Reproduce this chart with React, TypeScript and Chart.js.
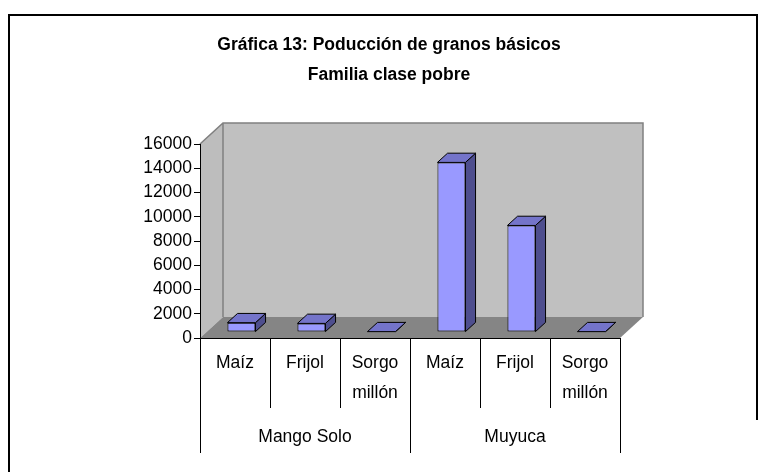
import React, { useEffect, useRef } from 'react';
import { Chart, registerables } from 'chart.js';

Chart.register(...registerables);

const categories: (string | string[])[] = ['Maíz', 'Frijol', ['Sorgo', 'millón'], 'Maíz', 'Frijol', ['Sorgo', 'millón']];
const groups = ['Mango Solo', 'Muyuca'];
const values = [780, 720, 40, 14000, 8800, 40];
const yMin = 0;
const yMax = 16000;
const yStep = 2000;
const titleLines = ['Gráfica 13: Poducción de granos básicos', 'Familia clase pobre'];

const FONT = "'Liberation Sans', Arial, sans-serif";
const W = 766;
const H = 472;
const DX = 23;
const DY = 21;
const F0 = 0.28;
const FD = 0.44;

const FRONT = '#9999FF';
const TOP = '#7474CA';
const SIDE = '#4E4E8E';

function poly(ctx: CanvasRenderingContext2D, pts: number[][]) {
  ctx.beginPath();
  ctx.moveTo(pts[0][0], pts[0][1]);
  for (let i = 1; i < pts.length; i++) ctx.lineTo(pts[i][0], pts[i][1]);
  ctx.closePath();
}

const excel3d = {
  id: 'excel3d',
  beforeDraw(chart: any) {
    const ctx: CanvasRenderingContext2D = chart.ctx;
    const a = chart.chartArea;
    ctx.save();
    ctx.fillStyle = '#ffffff';
    ctx.fillRect(0, 0, W, H);
    // outer frame
    ctx.strokeStyle = '#000';
    ctx.lineWidth = 2;
    ctx.beginPath();
    ctx.moveTo(9, H);
    ctx.lineTo(9, 15);
    ctx.lineTo(757, 15);
    ctx.lineTo(757, 420);
    ctx.stroke();
    // left wall
    ctx.fillStyle = '#BDBDBD';
    poly(ctx, [[a.left, a.top], [a.left + DX, a.top - DY], [a.left + DX, a.bottom - DY], [a.left, a.bottom]]);
    ctx.fill();
    // back wall
    ctx.fillStyle = '#C0C0C0';
    ctx.fillRect(a.left + DX, a.top - DY, a.right - a.left, a.bottom - a.top);
    // floor
    ctx.fillStyle = '#858585';
    poly(ctx, [[a.left, a.bottom], [a.left + DX, a.bottom - DY], [a.right + DX, a.bottom - DY], [a.right, a.bottom]]);
    ctx.fill();
    // wall edges
    ctx.strokeStyle = '#808080';
    ctx.lineWidth = 1.5;
    ctx.beginPath();
    ctx.moveTo(a.left, a.top);
    ctx.lineTo(a.left + DX, a.top - DY);
    ctx.lineTo(a.right + DX, a.top - DY);
    ctx.lineTo(a.right + DX, a.bottom - DY);
    ctx.moveTo(a.left + DX, a.top - DY);
    ctx.lineTo(a.left + DX, a.bottom - DY);
    ctx.stroke();
    ctx.restore();
  },
  beforeDatasetsDraw(chart: any) {
    chart.ctx.save();
    chart.ctx.translate(F0 * DX, -F0 * DY);
  },
  afterDatasetsDraw(chart: any) {
    const ctx: CanvasRenderingContext2D = chart.ctx;
    const meta = chart.getDatasetMeta(0);
    const bx = FD * DX;
    const by = FD * DY;
    ctx.strokeStyle = '#000';
    ctx.lineWidth = 1;
    ctx.lineJoin = 'round';
    meta.data.forEach((el: any) => {
      const { x, y, base, width } = el.getProps(['x', 'y', 'base', 'width'], true);
      const x1 = x - width / 2;
      const x2 = x + width / 2;
      ctx.fillStyle = SIDE;
      poly(ctx, [[x2, y], [x2 + bx, y - by], [x2 + bx, base - by], [x2, base]]);
      ctx.fill();
      ctx.stroke();
      ctx.fillStyle = TOP;
      poly(ctx, [[x1, y], [x2, y], [x2 + bx, y - by], [x1 + bx, y - by]]);
      ctx.fill();
      ctx.stroke();
    });
    ctx.restore();
  },
};

export default function App() {
  const ref = useRef<HTMLCanvasElement | null>(null);
  useEffect(() => {
    if (!ref.current) return;
    const chart = new Chart(ref.current, {
      type: 'bar',
      data: {
        labels: categories as any,
        datasets: [
          {
            data: values,
            backgroundColor: FRONT,
            borderColor: '#000',
            borderWidth: 1,
            borderSkipped: false,
            barPercentage: 0.4,
            categoryPercentage: 1,
            yAxisID: 'y',
            xAxisID: 'x',
          } as any,
        ],
      },
      options: {
        responsive: false,
        animation: false,
        devicePixelRatio: 1,
        layout: { padding: { left: 125, right: 113, top: 0, bottom: 14 } },
        plugins: {
          legend: { display: false },
          tooltip: { enabled: false },
          title: {
            display: true,
            text: titleLines,
            color: '#000',
            font: { family: FONT, size: 17.5, weight: 'bold', lineHeight: 1.71 },
            padding: { top: 30, bottom: 54.2 },
          },
        },
        scales: {
          x: {
            type: 'category',
            offset: true,
            grid: { offset: true, drawOnChartArea: false, drawTicks: true, tickLength: 70, color: '#000', lineWidth: 1 },
            border: { display: true, color: '#000', width: 1 },
            ticks: { color: '#000', font: { family: FONT, size: 17.5, lineHeight: 1.71 }, padding: -60, maxRotation: 0, minRotation: 0, autoSkip: false },
            afterFit: (s: any) => { s.height = 70; },
          },
          x2: {
            type: 'category',
            labels: groups,
            position: 'bottom',
            offset: true,
            grid: { offset: true, drawOnChartArea: false, drawTicks: true, tickLength: 45, color: '#000', lineWidth: 1 },
            border: { display: false },
            ticks: { color: '#000', font: { family: FONT, size: 17.5, lineHeight: 1.2 }, padding: -26, maxRotation: 0, minRotation: 0, autoSkip: false },
            afterFit: (s: any) => { s.height = 50; },
          },
          y: {
            min: yMin,
            max: yMax,
            position: 'left',
            ticks: { stepSize: yStep, color: '#000', font: { family: FONT, size: 17.5 }, padding: 2, autoSkip: false, callback: (v: any) => String(v) },
            grid: { drawOnChartArea: false, drawTicks: true, tickLength: 6, color: '#000', lineWidth: 1 },
            border: { display: true, color: '#000', width: 1 },
            afterFit: (s: any) => { s.width = 75; },
          },
          yR: {
            type: 'linear',
            position: 'right',
            grid: { display: false },
            ticks: { display: false },
            border: { display: false },
            afterFit: (s: any) => { s.width = 33; },
          },
        } as any,
      },
      plugins: [excel3d as any],
    });
    return () => chart.destroy();
  }, []);
  return (
    <div style={{ position: 'absolute', left: 0, top: 0, width: W, height: H }}>
      <canvas ref={ref} width={W} height={H} style={{ display: 'block' }} />
    </div>
  );
}
